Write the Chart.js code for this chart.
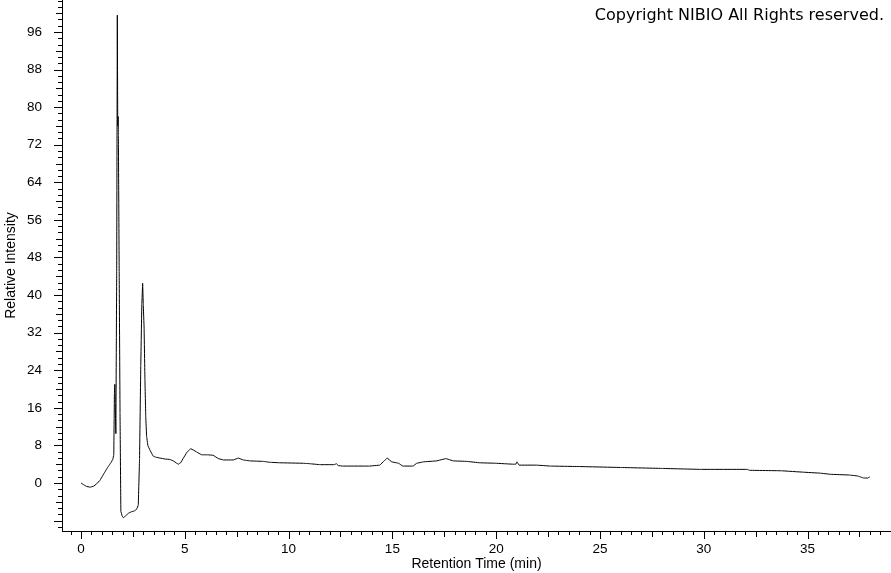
<!DOCTYPE html>
<html>
<head>
<meta charset="utf-8">
<script src="https://cdn.jsdelivr.net/npm/chart.js@4/dist/chart.umd.min.js"></script>
<style>
html,body{margin:0;padding:0;background:#fff;}
#wrap{position:relative;width:891px;height:573px;}
</style>
</head>
<body>
<div id="wrap"><canvas id="c" width="891" height="573"></canvas></div>
<script>
// Retention time (min)
const times = [0,0.1,0.25,0.43,0.6,0.75,0.92,1.05,1.16,1.28,1.36,1.45,1.53,1.58,1.61,1.63,1.65,1.68,1.72,1.75,1.77,1.79,1.80,1.84,1.88,1.92,1.98,2.04,2.12,2.2,2.3,2.44,2.55,2.68,2.76,2.82,2.88,2.93,2.97,3.0,3.04,3.08,3.12,3.16,3.22,3.32,3.48,3.6,3.81,4.05,4.29,4.45,4.61,4.69,4.8,4.93,5.1,5.28,5.42,5.57,5.81,6.1,6.37,6.61,6.86,7.34,7.58,7.82,8.14,8.78,9.1,9.59,10.7,11.03,11.5,12.2,12.3,12.4,12.6,13.9,14.4,14.6,14.75,14.97,15.3,15.5,16.0,16.17,16.5,17.13,17.58,17.93,18.58,19.2,20.0,20.8,20.95,21.0,21.1,21.95,22.6,24.0,26.0,28.0,29.8,32.1,32.2,33.75,34.8,35.6,36.1,37.0,37.4,37.7,37.9,38.0];
// Relative intensity
const intensity = [0,-0.3,-0.7,-0.9,-0.7,-0.2,0.6,1.6,2.4,3.3,3.8,4.4,5.0,6.0,19,21,17,10.5,45,99.6,76,78,74,45,15,-6,-7.0,-7.4,-7.1,-6.8,-6.4,-6.1,-6.0,-5.6,-4.7,5,25,38,42.5,38,33,22,14,10,8,7,5.7,5.5,5.3,5.1,5.0,4.7,4.2,4.0,4.3,5.3,6.5,7.3,7.0,6.6,6.0,6.0,5.9,5.2,4.9,4.9,5.3,4.9,4.7,4.6,4.4,4.3,4.2,4.1,3.9,3.9,4.1,3.7,3.6,3.6,3.8,4.7,5.3,4.5,4.2,3.6,3.6,4.2,4.5,4.7,5.2,4.7,4.6,4.3,4.2,4.0,4.0,4.5,3.8,3.8,3.6,3.5,3.3,3.1,2.9,2.9,2.7,2.6,2.3,2.1,1.85,1.7,1.5,1.06,1.06,1.3];
// Tick label steps
const xLabelStep = 5;
const yLabelStep = 8;
const xMinorStep = 0.5;
const yMinorStep = 8/6;

const FONT = "'Liberation Sans', Arial, sans-serif";

const tickPlugin = {
  id: 'ticksAndNote',
  afterDraw(chart) {
    const ctx = chart.ctx;
    const xs = chart.scales.x, ys = chart.scales.y;
    const area = chart.chartArea;
    ctx.save();
    ctx.strokeStyle = '#000';
    ctx.lineWidth = 1;
    ctx.beginPath();
    // x ticks
    const x0 = Math.ceil(xs.min / xMinorStep);
    const x1 = Math.floor(xs.max / xMinorStep);
    for (let i = x0; i <= x1; i++) {
      const v = i * xMinorStep;
      const px = Math.round(xs.getPixelForValue(v)) + 0.5;
      let len = 4;
      if (Math.abs(v % xLabelStep) < 1e-6) len = 8;
      else if (Math.abs(v % (xLabelStep/2)) < 1e-6) len = 6;
      ctx.moveTo(px, area.bottom);
      ctx.lineTo(px, area.bottom + len);
    }
    // y ticks
    const y0 = Math.ceil(ys.min / yMinorStep);
    const y1 = Math.floor(ys.max / yMinorStep);
    for (let i = y0; i <= y1; i++) {
      const v = i * yMinorStep;
      const py = Math.round(ys.getPixelForValue(v)) + 0.5;
      let len = 4;
      if (i % 6 === 0) len = 8;
      else if (i % 3 === 0) len = 6;
      ctx.moveTo(area.left, py);
      ctx.lineTo(area.left - len, py);
    }
    ctx.stroke();
    // copyright note
    ctx.fillStyle = '#000';
    ctx.font = "16px 'DejaVu Sans', sans-serif";
    ctx.textAlign = 'right';
    ctx.textBaseline = 'alphabetic';
    ctx.fillText('Copyright NIBIO All Rights reserved.', 884, 20);
    ctx.restore();
  }
};

new Chart(document.getElementById('c'), {
  type: 'line',
  data: {
    datasets: [{
      data: times.map((t, i) => ({x: t, y: intensity[i]})),
      borderColor: '#000',
      borderWidth: 1,
      pointRadius: 0,
      tension: 0.000001,
      fill: false
    }]
  },
  options: {
    responsive: false,
    animation: false,
    events: [],
    layout: {padding: 0},
    plugins: {legend: {display: false}, tooltip: {enabled: false}},
    scales: {
      x: {
        type: 'linear',
        min: -0.915,
        max: 39.02,
        border: {display: true, color: '#000', width: 1},
        grid: {display: false, drawTicks: false},
        ticks: {
          stepSize: xLabelStep,
          includeBounds: false,
          autoSkip: false,
          maxRotation: 0,
          padding: 10,
          color: '#000',
          font: {family: FONT, size: 13.5}
        },
        title: {display: true, text: 'Retention Time (min)', color: '#000', font: {family: FONT, size: 14}, padding: {top: 0, bottom: 0}},
        afterFit(s) { s.height = 42; s.paddingLeft = 0; s.paddingRight = 0; }
      },
      y: {
        type: 'linear',
        min: -10.22,
        max: 102.81,
        border: {display: true, color: '#000', width: 1},
        grid: {display: false, drawTicks: false},
        ticks: {
          stepSize: yLabelStep,
          includeBounds: false,
          autoSkip: false,
          padding: 20,
          color: '#000',
          font: {family: FONT, size: 13.5},
          callback: v => (v < 0 ? '' : v)
        },
        title: {display: true, text: 'Relative Intensity', color: '#000', font: {family: FONT, size: 14}, padding: {top: 3, bottom: 0}},
        afterFit(s) { s.width = 62; s.paddingTop = 0; s.paddingBottom = 0; }
      }
    }
  },
  plugins: [tickPlugin]
});
</script>
</body>
</html>
